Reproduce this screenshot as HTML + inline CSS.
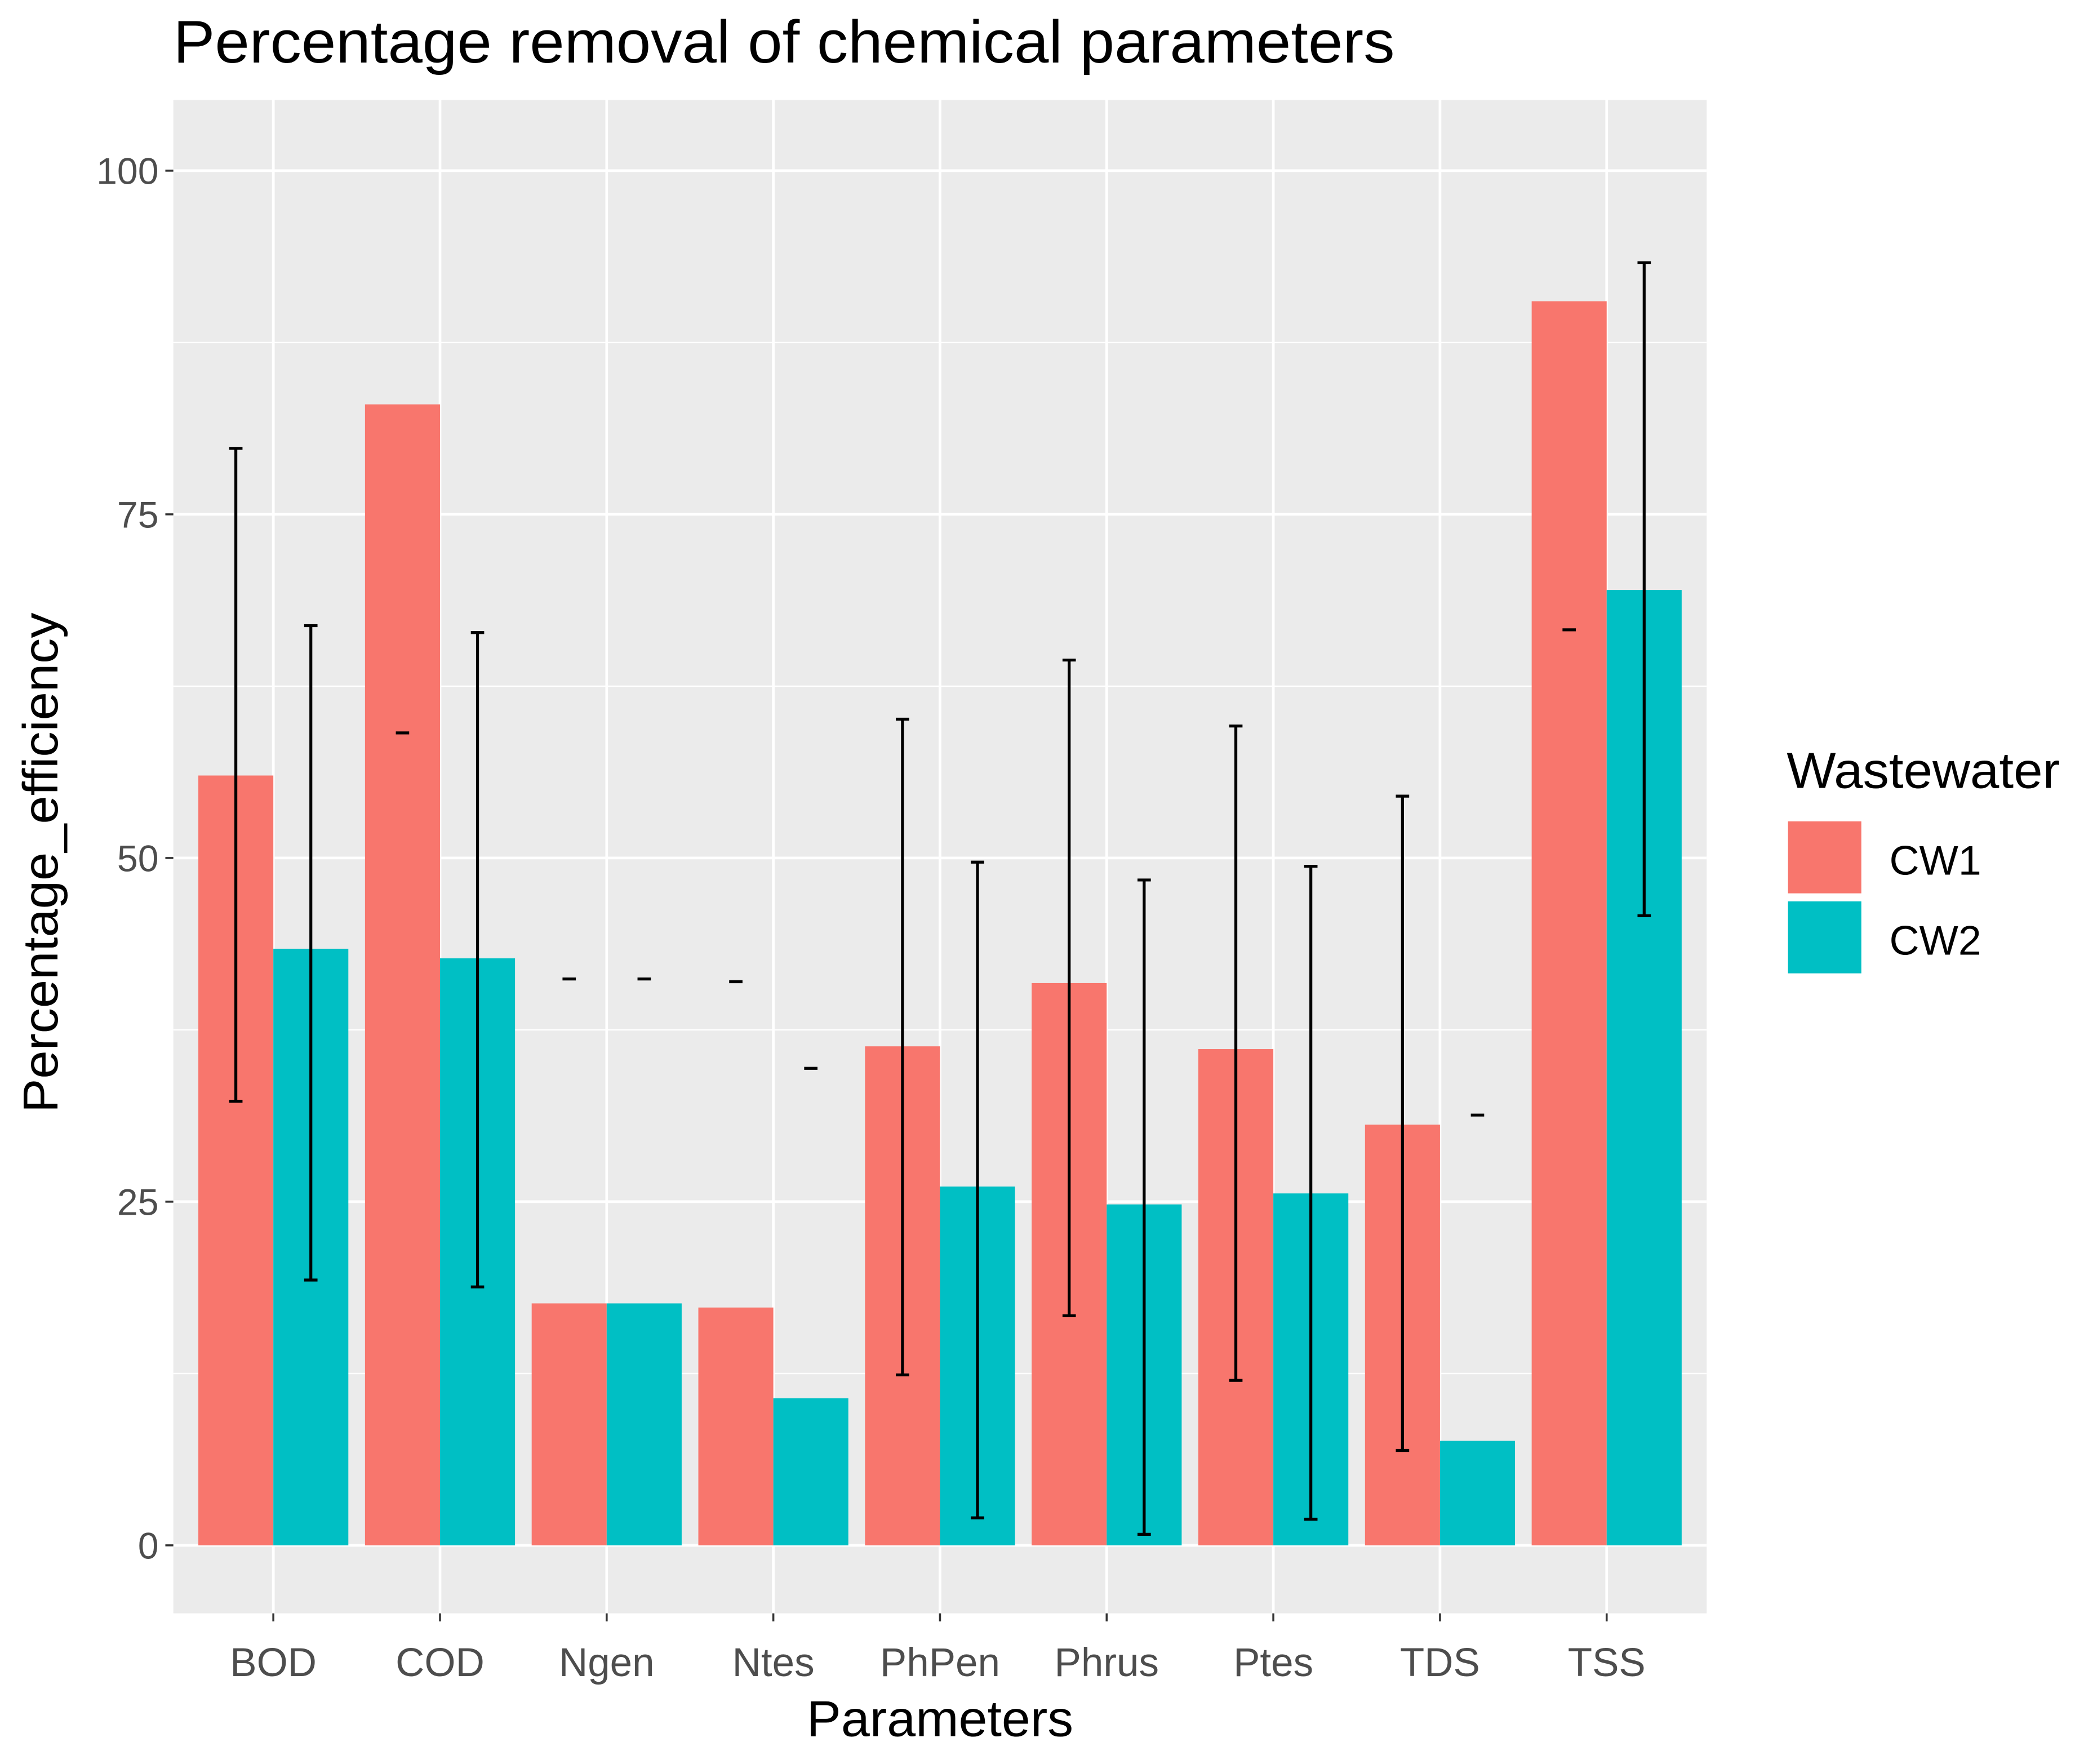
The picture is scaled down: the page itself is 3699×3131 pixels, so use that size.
<!DOCTYPE html>
<html><head><meta charset="utf-8"><style>
html,body{margin:0;padding:0;background:#fff}
svg{display:block}
text{font-family:"Liberation Sans",Arial,sans-serif}
</style></head><body>
<svg id="chart" width="3699" height="3131" viewBox="0 0 1563 1323" xmlns="http://www.w3.org/2000/svg">
<rect x="0" y="0" width="1563" height="1323" fill="#fff"/>
<text x="130" y="47" font-size="45" textLength="916" lengthAdjust="spacingAndGlyphs" fill="#000">Percentage removal of chemical parameters</text>
<rect x="130" y="75" width="1150" height="1135" fill="#EBEBEB"/>
<g id="grid"></g>
<g id="bars"></g>
<g id="errs"></g>
<g id="axes"></g>
<text x="705" y="1302" font-size="38" textLength="200" lengthAdjust="spacingAndGlyphs" text-anchor="middle" fill="#000">Parameters</text>
<text transform="translate(43,647) rotate(-90)" font-size="37" textLength="375" lengthAdjust="spacingAndGlyphs" text-anchor="middle" fill="#000">Percentage_efficiency</text>
<g>
<text x="1340" y="591" font-size="38" textLength="205" lengthAdjust="spacingAndGlyphs" fill="#000">Wastewater</text>
<rect x="1340" y="615" width="57" height="56" fill="#F8766D" stroke="#fff" stroke-width="2"/>
<rect x="1340" y="675" width="57" height="56" fill="#00BFC4" stroke="#fff" stroke-width="2"/>
<text x="1417" y="656" font-size="31" textLength="69" lengthAdjust="spacingAndGlyphs" fill="#000">CW1</text>
<text x="1417" y="716" font-size="31" textLength="69" lengthAdjust="spacingAndGlyphs" fill="#000">CW2</text>
</g>
</svg>
<script>
const categories=["BOD","COD","Ngen","Ntes","PhPen","Phrus","Ptes","TDS","TSS"];
const cw1=[56,83,17.6,17.3,36.3,40.9,36.1,30.6,90.5];
const cw2=[43.4,42.7,17.6,10.7,26.1,24.8,25.6,7.6,69.5];
const cw1Low=[32.3,59.1,41.2,41.0,12.4,16.7,12.0,6.9,66.6];
const cw1High=[79.8,59.1,41.2,41.0,60.1,64.4,59.6,54.5,66.6];
const cw2Low=[19.3,18.8,41.2,34.7,2.0,0.8,1.9,31.3,45.8];
const cw2High=[66.9,66.4,41.2,34.7,49.7,48.4,49.4,31.3,93.3];
const yTicks=[0,25,50,75,100];
const NS="http://www.w3.org/2000/svg";
const y=v=>1159-10.31*v;
const x0=205,step=125;
const xc=i=>x0+step*i;
const bw=step*0.45;
function mk(tag,attrs,parent){const e=document.createElementNS(NS,tag);for(const k in attrs)e.setAttribute(k,attrs[k]);document.getElementById(parent).appendChild(e);return e;}
for(let i=0;i<yTicks.length-1;i++){const v=(yTicks[i]+yTicks[i+1])/2;const l=mk("line",{x1:130,x2:1280,y1:y(v),y2:y(v),stroke:"#fff","stroke-width":1},"grid");

}
yTicks.forEach(v=>{const l=mk("line",{x1:130,x2:1280,y1:y(v),y2:y(v),stroke:"#fff","stroke-width":2},"grid");


const t=mk("line",{x1:124,x2:130,y1:y(v),y2:y(v),stroke:"#333","stroke-width":1.5},"axes");


const tx=mk("text",{x:119,y:y(v)+10,"font-size":28,"text-anchor":"end",fill:"#4D4D4D"},"axes");tx.textContent=v;

});
categories.forEach((c,i)=>{const l=mk("line",{x1:xc(i),x2:xc(i),y1:75,y2:1210,stroke:"#fff","stroke-width":2},"grid");


const t=mk("line",{x1:xc(i),x2:xc(i),y1:1210,y2:1216,stroke:"#333","stroke-width":1.5},"axes");


const tx=mk("text",{x:xc(i),y:1257,"font-size":30,"text-anchor":"middle",fill:"#4D4D4D"},"axes");tx.textContent=c;


const b1=mk("rect",{x:xc(i)-bw,y:y(cw1[i]),width:bw,height:y(0)-y(cw1[i]),fill:"#F8766D"},"bars");


const b2=mk("rect",{x:xc(i),y:y(cw2[i]),width:bw,height:y(0)-y(cw2[i]),fill:"#00BFC4"},"bars");


[[cw1Low,cw1High,xc(i)-bw/2,'cw1'],[cw2Low,cw2High,xc(i)+bw/2,'cw2']].forEach(([lo,hi,ex,s])=>{
const g=mk("g",{},"errs");


const p=document.createElementNS(NS,"path");
p.setAttribute("d",`M${ex-5},${y(hi[i])}H${ex+5}M${ex},${y(hi[i])}V${y(lo[i])}M${ex-5},${y(lo[i])}H${ex+5}`);
p.setAttribute("stroke","#000");p.setAttribute("stroke-width","2.2");p.setAttribute("fill","none");g.appendChild(p);});
});
</script>
</body></html>
